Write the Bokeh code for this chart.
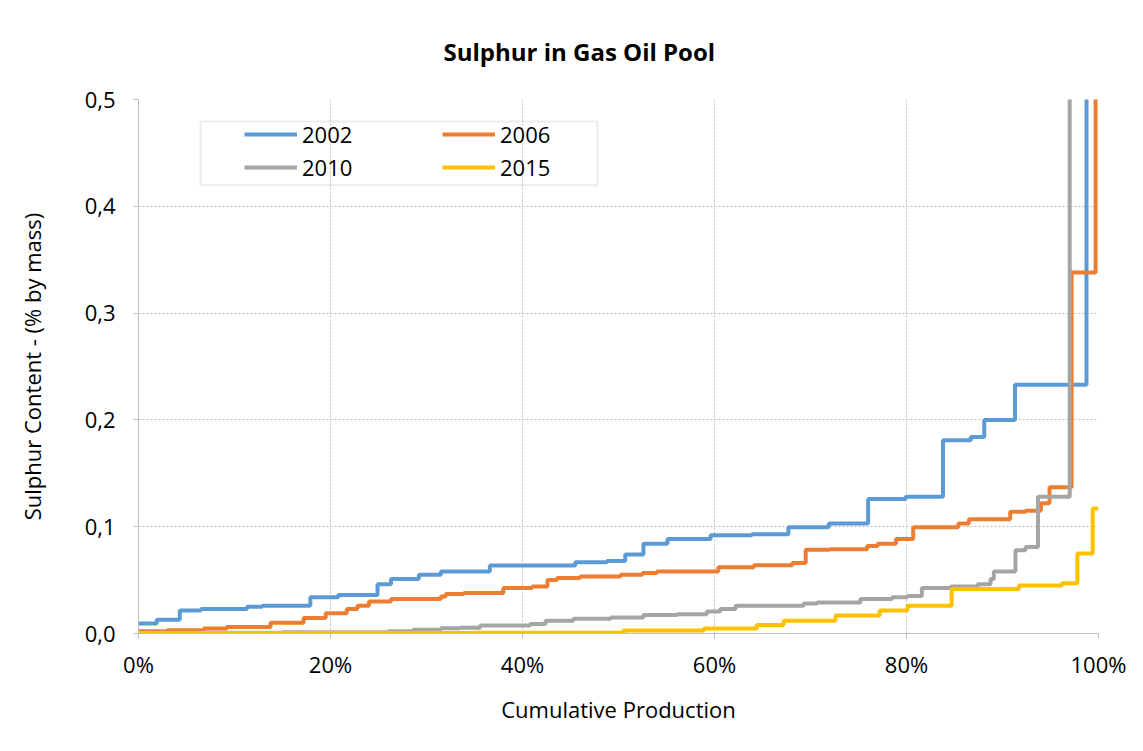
from bokeh.plotting import figure
from bokeh.models import (Range1d, FixedTicker, CustomJSTickFormatter, BoxAnnotation,
                          Legend, LegendItem)
from bokeh.embed import file_html
from bokeh.resources import INLINE

# ---- data (cumulative production %, sulphur content % by mass) ----
x_2002 = [0, 1.9, 4.3, 6.5, 11.3, 12.9, 17.9, 20.8, 24.9, 26.3, 29.2, 31.5, 36.6, 45.5,
          48.8, 50.7, 52.6, 55.1, 59.6, 63.9, 67.7, 71.9, 76.0, 79.9, 83.8, 86.7, 88.1,
          91.3, 98.75]
y_2002 = [0.0093, 0.0128, 0.0215, 0.023, 0.025, 0.026, 0.034, 0.036, 0.046, 0.051, 0.055,
          0.058, 0.0636, 0.0667, 0.068, 0.074, 0.084, 0.0885, 0.092, 0.093, 0.0994, 0.103,
          0.126, 0.128, 0.181, 0.184, 0.200, 0.233, 0.6]

x_2006 = [0, 3, 6.8, 9.2, 13.75, 17.2, 19.5, 21.7, 22.8, 24, 26.3, 31.5, 32, 33.9, 38, 41,
          42.6, 43.6, 46, 50.2, 52.5, 54, 60.4, 64.1, 68.1, 69.5, 72, 75.9, 77, 78.9, 80.7,
          85.4, 86.5, 90.8, 92.4, 94, 94.9, 97.2, 99.7]
y_2006 = [0.002, 0.003, 0.0047, 0.006, 0.010, 0.0146, 0.019, 0.023, 0.026, 0.030, 0.0324,
          0.0346, 0.037, 0.038, 0.0427, 0.044, 0.050, 0.052, 0.0533, 0.055, 0.0567, 0.058,
          0.062, 0.064, 0.066, 0.0785, 0.079, 0.082, 0.084, 0.0885, 0.0994, 0.103, 0.107,
          0.114, 0.115, 0.122, 0.137, 0.338, 0.6]

x_2010 = [0, 15, 26, 28.6, 31.5, 33.5, 35.6, 40.8, 42.4, 45.3, 49.2, 52.6, 56.1, 59.2,
          60.6, 62.2, 69.3, 70.7, 75.2, 78.5, 80.1, 81.6, 84.6, 87.4, 88.75, 89.1, 91.35,
          92.4, 93.7, 97.0]
y_2010 = [0.0008, 0.0012, 0.002, 0.0034, 0.005, 0.0053, 0.0075, 0.009, 0.012, 0.0137,
          0.015, 0.0174, 0.018, 0.0206, 0.023, 0.0259, 0.028, 0.029, 0.0324, 0.034, 0.035,
          0.0427, 0.044, 0.046, 0.051, 0.058, 0.078, 0.081, 0.128, 0.6]

x_2015 = [0, 35, 50.5, 58.9, 64.4, 67.2, 72.6, 77.2, 80.1, 84.7, 91.7, 96.2, 97.8, 99.4, 100]
y_2015 = [0.0005, 0.0008, 0.0028, 0.0047, 0.008, 0.012, 0.0168, 0.0215, 0.026, 0.0417,
          0.045, 0.047, 0.075, 0.117, 0.117]

series_names = ["2002", "2006", "2010", "2015"]
series_colors = ["#5B9BD5", "#ED7D31", "#A5A5A5", "#FFC000"]
x_ticks = [0, 20, 40, 60, 80, 100]
y_ticks = [0.0, 0.1, 0.2, 0.3, 0.4, 0.5]

FONT = "Open Sans"

p = figure(width=1135, height=743, output_backend="svg", toolbar_location=None,
           x_range=Range1d(0, 100), y_range=Range1d(0, 0.5),
           min_border_left=138, min_border_right=37, min_border_top=98,
           min_border_bottom=110, title="Sulphur in Gas Oil Pool")

p.title.text_font = FONT
p.title.text_font_size = "24px"
p.title.text_font_style = "bold"
p.title.text_color = "#000000"
p.title.align = "left"
p.title.offset = 305
p.title.standoff = 64

p.outline_line_color = None
p.background_fill_color = "white"
p.border_fill_color = "white"

renderers = []
for xs, ys, c in zip([x_2002, x_2006, x_2010, x_2015], [y_2002, y_2006, y_2010, y_2015],
                     series_colors):
    r = p.step(xs, ys, mode="after", line_color=c, line_width=4)
    renderers.append(r)

# axes
p.xaxis.ticker = FixedTicker(ticks=x_ticks)
p.yaxis.ticker = FixedTicker(ticks=y_ticks)
p.xaxis.formatter = CustomJSTickFormatter(code="return tick.toFixed(0) + '%';")
p.yaxis.formatter = CustomJSTickFormatter(code="return tick.toFixed(1).replace('.', ',');")
for ax in (p.xaxis[0], p.yaxis[0]):
    ax.axis_line_color = "#BFBFBF"
    ax.major_tick_line_color = "#BFBFBF"
    ax.major_tick_out = 5
    ax.major_tick_in = 0
    ax.minor_tick_line_color = None
    ax.major_label_text_font = FONT
    ax.major_label_text_font_size = "22px"
    ax.major_label_text_color = "#000000"
    ax.axis_label_text_font = FONT
    ax.axis_label_text_font_size = "22px"
    ax.axis_label_text_font_style = "normal"
    ax.axis_label_text_color = "#000000"

p.xaxis.axis_label = "Cumulative Production"
p.yaxis.axis_label = "Sulphur Content - (% by mass)"
p.xaxis.major_label_standoff = 10
p.yaxis.major_label_standoff = 18
p.xaxis.axis_label_standoff = 12
p.yaxis.axis_label_standoff = 35

for g in (p.xgrid[0], p.ygrid[0]):
    g.grid_line_color = "#BFBFBF"
    g.grid_line_dash = "2 2"
    g.grid_line_width = 1

# legend box
box = BoxAnnotation(left=6.46, right=47.8, top=0.4794, bottom=0.4196,
                    fill_color=None, fill_alpha=0, line_color="#BFBFBF", line_width=2)
p.add_layout(box)

order = [0, 2, 1, 3]  # column-wise fill -> rows: 2002 2006 / 2010 2015
items = [LegendItem(label=series_names[i], renderers=[renderers[i]]) for i in order]
legend = Legend(items=items, ncols=2, location=(106, 451), margin=0, padding=0,
                spacing=3, glyph_width=53, glyph_height=20, label_standoff=5,
                label_width=137, border_line_color=None, background_fill_alpha=0,
                label_text_font=FONT, label_text_font_size="22px",
                label_text_color="#000000")
p.add_layout(legend)

open("out.html", "w").write(file_html(p, INLINE))
